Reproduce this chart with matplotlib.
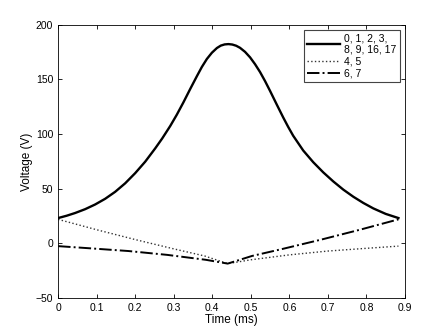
import numpy as np
import matplotlib.pyplot as plt

plt.rcParams['font.family'] = ['Liberation Sans', 'DejaVu Sans']

# Solid curve (phases 0,1,2,3,8,9,16,17)
t_solid = [0.0, 0.022, 0.044, 0.07, 0.096, 0.122, 0.148, 0.174, 0.2, 0.226,
           0.252, 0.27, 0.291, 0.308, 0.325, 0.343, 0.36, 0.373, 0.386, 0.399,
           0.412, 0.422, 0.432, 0.442, 0.452, 0.462, 0.472, 0.485, 0.498, 0.511,
           0.524, 0.537, 0.550, 0.567, 0.584, 0.597, 0.610, 0.636, 0.662, 0.688,
           0.714, 0.740, 0.766, 0.792, 0.818, 0.850, 0.883]
v_solid = [23.2, 25.3, 27.8, 31.3, 35.6, 40.8, 47.2, 55.0, 64.3, 74.8,
           87.0, 96.0, 107.5, 117.8, 129.0, 141.5, 153.0, 161.5, 168.8, 174.5,
           178.8, 181.0, 182.1, 182.4, 182.0, 180.9, 179.0, 175.3, 170.3, 164.0,
           156.8, 148.5, 139.5, 127.3, 115.3, 106.6, 98.5, 85.0, 74.3, 65.0,
           56.7, 49.2, 42.7, 37.0, 32.0, 27.0, 23.2]

# Dotted curve (phases 4,5)
t_dot = [0.0, 0.1, 0.2, 0.3, 0.38, 0.44, 0.5, 0.6, 0.7, 0.8, 0.883]
v_dot = [22.0, 12.5, 3.5, -5.0, -11.5, -18.5, -15.0, -10.5, -7.0, -4.5, -2.5]

# Dash-dot curve (phases 6,7)
t_dd = [0.0, 0.083, 0.183, 0.283, 0.383, 0.44, 0.503, 0.583, 0.683, 0.783, 0.883]
v_dd = [-2.5, -4.5, -7.0, -10.5, -15.0, -18.5, -11.5, -5.0, 3.5, 12.5, 22.0]

xticks = np.arange(0, 0.91, 0.1)
yticks = [-50, 0, 50, 100, 150, 200]

fig = plt.figure(figsize=(4.47, 3.36), dpi=100)
ax = fig.add_axes([0.130, 0.113, 0.776, 0.813])

ax.plot(t_solid, v_solid, '-', color='black', lw=1.7, label='0, 1, 2, 3,\n8, 9, 16, 17',
        solid_joinstyle='round')
ax.plot(t_dot, v_dot, ':', color='#333333', lw=1.0, label='4, 5')
ax.plot(t_dd, v_dd, '-.', color='black', lw=1.4, label='6, 7')

ax.set_xlim(0, 0.9)
ax.set_ylim(-50, 200)
ax.set_xticks(xticks)
ax.set_xticklabels(['0'] + [f'{x:.1f}' for x in xticks[1:]])
ax.set_yticks(yticks)
ax.tick_params(direction='in', top=True, right=True, labelsize=7.5, length=3, width=0.6)
for s in ax.spines.values():
    s.set_linewidth(0.6)

ax.set_xlabel('Time (ms)', fontsize=8.5, labelpad=1)
ax.set_ylabel('Voltage (V)', fontsize=8.5, labelpad=2)

leg = ax.legend(loc='upper right', fontsize=7.5, handlelength=3.2, handletextpad=0.4,
                borderpad=0.3, labelspacing=0.2, fancybox=False, framealpha=1,
                borderaxespad=0.5)
leg.get_frame().set_edgecolor('#444444')
leg.get_frame().set_linewidth(0.8)

fig.savefig('out.png', dpi=100)
